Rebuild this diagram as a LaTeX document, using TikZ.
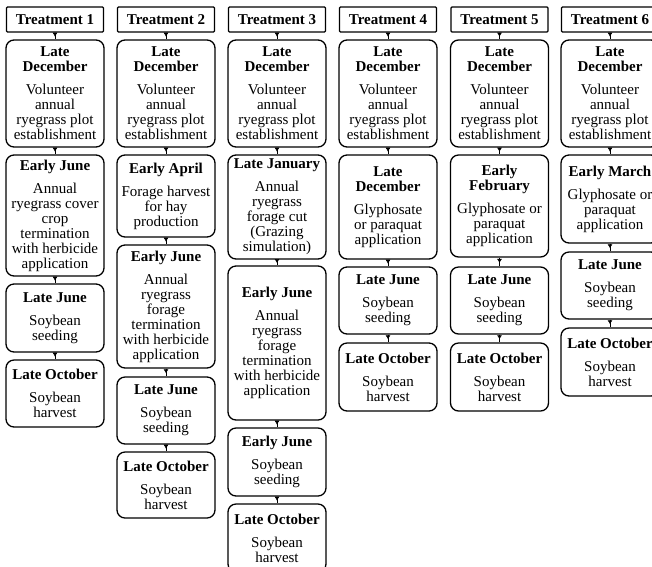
\documentclass[tikz,border=0pt]{standalone}
\usepackage{fontspec}
\setmainfont{Liberation Serif}
\usetikzlibrary{arrows.meta,decorations.markings}
\begin{document}
\begin{tikzpicture}[x=1pt,y=-1pt,
  every node/.style={font=\fontsize{15pt}{15pt}\selectfont},
  headbox/.style={draw, line width=1.3pt, rounded corners=1pt, minimum width=97pt, minimum height=25pt, inner sep=1pt, font=\fontsize{15pt}{15pt}\selectfont\bfseries},
  stepbox/.style={draw, line width=1.3pt, rounded corners=8pt, minimum width=98pt, inner sep=2pt, align=center},
  conn/.style={line width=0.6pt, decoration={markings, mark=at position 0.6 with {\arrow{Latex[length=4pt,width=5pt]}}}, postaction={decorate}}
]
\useasboundingbox (0,0) rectangle (652,566);
\clip (0,0) rectangle (652,566);
\newcommand{\ttl}[1]{\textbf{#1}}
% ---------------- Treatment 1
\node[headbox] (h1) at (55,19.5) {Treatment 1};
\node[stepbox, minimum height=107pt] (a1) at (55,93.5) {\ttl{Late}\\\ttl{December}\\[8pt]Volunteer\\annual\\ryegrass plot\\establishment};
\node[stepbox, minimum height=121pt] (a2) at (55,215.5) {\ttl{Early June}\\[8pt]Annual\\ryegrass cover\\crop\\termination\\with herbicide\\application};
\node[stepbox, minimum height=68pt] (a3) at (55,318) {\ttl{Late June}\\[8pt]Soybean\\seeding};
\node[stepbox, minimum height=67pt] (a4) at (55,393.5) {\ttl{Late October}\\[8pt]Soybean\\harvest};
\draw[conn] (h1.south) -- (a1.north);
\draw[conn] (a1.south) -- (a2.north);
\draw[conn] (a2.south) -- (a3.north);
\draw[conn] (a3.south) -- (a4.north);
% ---------------- Treatment 2
\node[headbox] (h2) at (166,19.5) {Treatment 2};
\node[stepbox, minimum height=107pt] (b1) at (166,93.5) {\ttl{Late}\\\ttl{December}\\[8pt]Volunteer\\annual\\ryegrass plot\\establishment};
\node[stepbox, minimum height=82pt] (b2) at (166,196) {\ttl{Early April}\\[8pt]Forage harvest\\for hay\\production};
\node[stepbox, minimum height=123pt] (b3) at (166,306.5) {\ttl{Early June}\\[8pt]Annual\\ryegrass\\forage\\termination\\with herbicide\\application};
\node[stepbox, minimum height=67pt] (b4) at (166,410.5) {\ttl{Late June}\\[8pt]Soybean\\seeding};
\node[stepbox, minimum height=66pt] (b5) at (166,485) {\ttl{Late October}\\[8pt]Soybean\\harvest};
\draw[conn] (h2.south) -- (b1.north);
\draw[conn] (b1.south) -- (b2.north);
\draw[conn] (b2.south) -- (b3.north);
\draw[conn] (b3.south) -- (b4.north);
\draw[conn] (b4.south) -- (b5.north);
% ---------------- Treatment 3
\node[headbox] (h3) at (277,19.5) {Treatment 3};
\node[stepbox, minimum height=107pt] (c1) at (277,93.5) {\ttl{Late}\\\ttl{December}\\[8pt]Volunteer\\annual\\ryegrass plot\\establishment};
\node[stepbox, minimum height=104pt] (c2) at (277,207) {\ttl{Late January}\\[8pt]Annual\\ryegrass\\forage cut\\(Grazing\\simulation)};
\node[stepbox, minimum height=154pt] (c3) at (277,343) {\ttl{Early June}\\[8pt]Annual\\ryegrass\\forage\\termination\\with herbicide\\application};
\node[stepbox, minimum height=68pt] (c4) at (277,462) {\ttl{Early June}\\[8pt]Soybean\\seeding};
\node[stepbox, minimum height=68pt] (c5) at (277,538) {\ttl{Late October}\\[8pt]Soybean\\harvest};
\draw[conn] (h3.south) -- (c1.north);
\draw[conn] (c1.south) -- (c2.north);
\draw[conn] (c2.south) -- (c3.north);
\draw[conn] (c3.south) -- (c4.north);
\draw[conn] (c4.south) -- (c5.north);
% ---------------- Treatment 4
\node[headbox] (h4) at (388,19.5) {Treatment 4};
\node[stepbox, minimum height=107pt] (d1) at (388,93.5) {\ttl{Late}\\\ttl{December}\\[8pt]Volunteer\\annual\\ryegrass plot\\establishment};
\node[stepbox, minimum height=104pt] (d2) at (388,207) {\ttl{Late}\\\ttl{December}\\[8pt]Glyphosate\\or paraquat\\application};
\node[stepbox, minimum height=67pt] (d3) at (388,300.5) {\ttl{Late June}\\[8pt]Soybean\\seeding};
\node[stepbox, minimum height=68pt] (d4) at (388,377) {\ttl{Late October}\\[8pt]Soybean\\harvest};
\draw[conn] (h4.south) -- (d1.north);
\draw[conn] (d1.south) -- (d2.north);
\draw[conn] (d2.south) -- (d3.north);
\draw[conn] (d3.south) -- (d4.north);
% ---------------- Treatment 5
\node[headbox] (h5) at (499.5,19.5) {Treatment 5};
\node[stepbox, minimum height=107pt] (e1) at (499.5,93.5) {\ttl{Late}\\\ttl{December}\\[8pt]Volunteer\\annual\\ryegrass plot\\establishment};
\node[stepbox, minimum height=102pt] (e2) at (499.5,206) {\ttl{Early}\\\ttl{February}\\[8pt]Glyphosate or\\paraquat\\application};
\node[stepbox, minimum height=67pt] (e3) at (499.5,300.5) {\ttl{Late June}\\[8pt]Soybean\\seeding};
\node[stepbox, minimum height=68pt] (e4) at (499.5,377) {\ttl{Late October}\\[8pt]Soybean\\harvest};
\draw[conn] (h5.south) -- (e1.north);
\draw[conn] (e1.south) -- (e2.north);
\draw[conn] (e2.south) -- (e3.north);
\draw[conn] (e3.south) -- (e4.north);
% ---------------- Treatment 6
\node[headbox] (h6) at (610,19.5) {Treatment 6};
\node[stepbox, minimum height=107pt] (f1) at (610,93.5) {\ttl{Late}\\\ttl{December}\\[8pt]Volunteer\\annual\\ryegrass plot\\establishment};
\node[stepbox, minimum height=88pt] (f2) at (610,199) {\ttl{Early March}\\[8pt]Glyphosate or\\paraquat\\application};
\node[stepbox, minimum height=67pt] (f3) at (610,285.5) {\ttl{Late June}\\[8pt]Soybean\\seeding};
\node[stepbox, minimum height=68pt] (f4) at (610,362) {\ttl{Late October}\\[8pt]Soybean\\harvest};
\draw[conn] (h6.south) -- (f1.north);
\draw[conn] (f1.south) -- (f2.north);
\draw[conn] (f2.south) -- (f3.north);
\draw[conn] (f3.south) -- (f4.north);
\end{tikzpicture}
\end{document}
